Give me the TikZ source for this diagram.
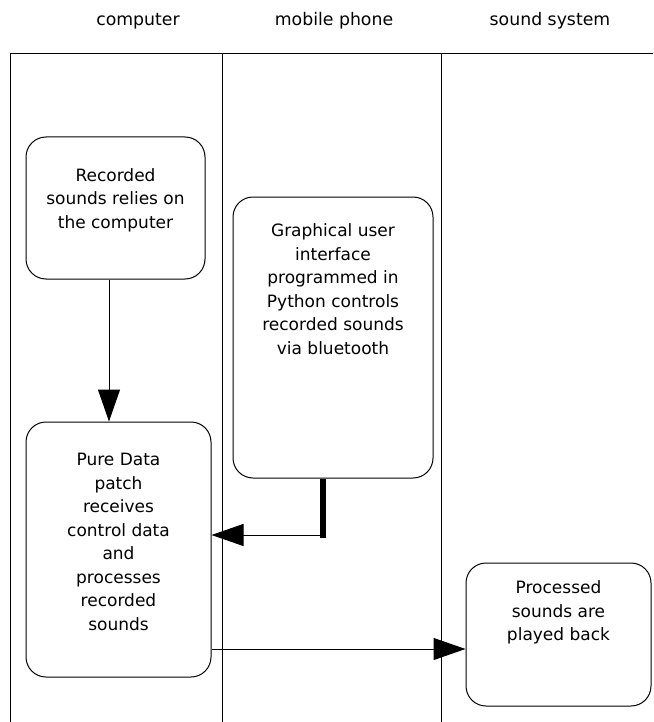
\documentclass[tikz,border=0pt]{standalone}
\usepackage{fontspec}
\setmainfont{DejaVu Sans}
\usetikzlibrary{arrows.meta}
\begin{document}
\begin{tikzpicture}[x=1pt,y=-1pt,
  lane/.style={line width=1pt},
  box/.style={draw, line width=1pt, rounded corners=20pt, inner sep=0pt},
  txt/.style={align=center, inner sep=0pt, font=\fontsize{17}{23.5}\selectfont},
  hdr/.style={inner sep=0pt, font=\fontsize{17.3}{20}\selectfont},
  arr/.style={line width=1pt, -{Triangle[length=32pt,width=22pt]}},
]
\useasboundingbox (0,0) rectangle (653,722);
% lanes
\draw[lane] (653,54) -- (10,54) -- (10,722);
\draw[lane] (222,54) -- (222,722);
\draw[lane] (441,54) -- (441,722);
% headers
\node[hdr] (h1) at (138,21) {computer};
\node[hdr] (h2) at (334,21) {mobile phone};
\node[hdr] (h3) at (550,21) {sound system};
% boxes
\node[box, minimum width=179pt, minimum height=142pt] (rec) at (115.5,208) {};
\node[txt] (rect) at (115.5,200) {Recorded\\sounds relies on\\the computer};
\node[box, minimum width=200pt, minimum height=281pt] (gui) at (333,337.5) {};
\node[txt] (guit) at (333,289) {Graphical user\\interface\\programmed in\\Python controls\\recorded sounds\\via bluetooth};
\node[box, minimum width=185pt, minimum height=255pt] (pure) at (118.5,549.5) {};
\node[txt] (puret) at (118.5,542) {Pure Data\\patch\\receives\\control data\\and\\processes\\recorded\\sounds};
\node[box, minimum width=185pt, minimum height=143pt] (proc) at (558.5,634.5) {};
\node[txt] (proct) at (558.5,612.5) {Processed\\sounds are\\played back};
% connectors
\draw[arr] ([xshift=-6.5pt]rec.south) -- ([xshift=-9.5pt]pure.north);
\coordinate (elbow) at (323,535);
\draw[line width=6pt] (elbow |- gui.south) -- ([yshift=-3pt]elbow);
\draw[arr] (elbow) -- (elbow -| pure.east);
\draw[arr] (pure.east |- 0,649) -- (proc.west |- 0,649);
\end{tikzpicture}
\end{document}
